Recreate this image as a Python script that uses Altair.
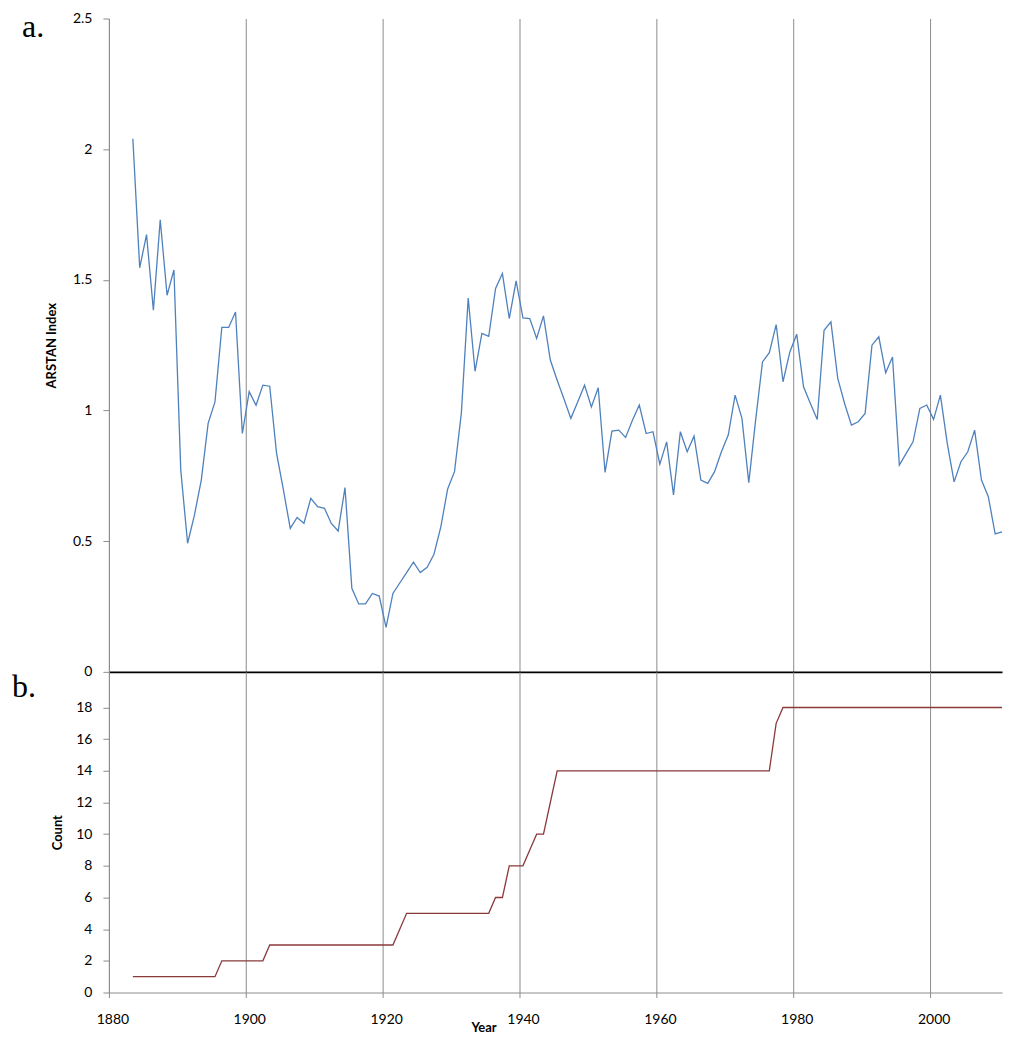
import altair as alt
import pandas as pd

years = list(range(1883, 2011))

arstan = [
    2.04, 1.546, 1.673, 1.384, 1.73, 1.441, 1.538, 0.772, 0.492, 0.60,
    0.734, 0.951, 1.033, 1.318, 1.318, 1.377, 0.912, 1.072, 1.02, 1.097,
    1.093, 0.836, 0.696, 0.549, 0.591, 0.568, 0.664, 0.632, 0.626, 0.568,
    0.539, 0.705, 0.32, 0.26, 0.26, 0.30, 0.29, 0.17, 0.30, 0.34,
    0.38, 0.42, 0.38, 0.40, 0.45, 0.555, 0.70, 0.766, 0.99, 1.43,
    1.15, 1.295, 1.284, 1.467, 1.524, 1.352, 1.496, 1.354, 1.352, 1.276,
    1.362, 1.193, 1.116, 1.044, 0.97, 1.033, 1.097, 1.014, 1.087, 0.763,
    0.921, 0.925, 0.897, 0.963, 1.021, 0.912, 0.919, 0.795, 0.88, 0.677,
    0.919, 0.842, 0.902, 0.734, 0.721, 0.766, 0.842, 0.906, 1.059, 0.97,
    0.724, 0.963, 1.186, 1.221, 1.329, 1.11, 1.224, 1.292, 1.091, 1.027,
    0.966, 1.307, 1.339, 1.123, 1.027, 0.944, 0.957, 0.989, 1.25, 1.282,
    1.144, 1.205, 0.791, 0.836, 0.88, 1.008, 1.021, 0.966, 1.059, 0.874,
    0.727, 0.804, 0.842, 0.925, 0.734, 0.67, 0.528, 0.536,
]

counts = [
    1, 1, 1, 1, 1, 1, 1, 1, 1, 1, 1, 1, 1,            # 1883-1895
    2, 2, 2, 2, 2, 2, 2,                              # 1896-1902
    3, 3, 3, 3, 3, 3, 3, 3, 3, 3, 3, 3, 3, 3, 3, 3, 3, 3, 3,  # 1903-1921
    4,                                                # 1922
    5, 5, 5, 5, 5, 5, 5, 5, 5, 5, 5, 5, 5,            # 1923-1935
    6, 6,                                             # 1936-1937
    8, 8, 8,                                          # 1938-1940
    9,                                                # 1941
    10, 10,                                           # 1942-1943
    12,                                               # 1944
    14, 14, 14, 14, 14, 14, 14, 14, 14, 14, 14, 14, 14, 14, 14, 14,
    14, 14, 14, 14, 14, 14, 14, 14, 14, 14, 14, 14, 14, 14, 14, 14,  # 1945-1976
    17,                                               # 1977
    18, 18, 18, 18, 18, 18, 18, 18, 18, 18, 18, 18, 18, 18, 18, 18, 18,
    18, 18, 18, 18, 18, 18, 18, 18, 18, 18, 18, 18, 18, 18, 18, 18,  # 1978-2010
]

x_ticks = [1880, 1900, 1920, 1940, 1960, 1980, 2000]
arstan_ticks = [0, 0.5, 1, 1.5, 2, 2.5]
count_ticks = [0, 2, 4, 6, 8, 10, 12, 14, 16, 18]
panel_labels = ["a.", "b."]

df = pd.DataFrame({"year": years, "arstan": arstan, "count": counts})

GRAY = "#8c8c8c"
W = 894
xscale = alt.Scale(domain=[1880, 2010.5], nice=False, zero=False)

top_line = (
    alt.Chart(df)
    .transform_calculate(xpos="datum.year + 0.5")
    .mark_line(color="#4F81BD", strokeWidth=1.3)
    .encode(
        x=alt.X("xpos:Q", scale=xscale,
                axis=alt.Axis(values=x_ticks, labels=False, ticks=False, title=None,
                              grid=True, gridColor=GRAY, domainColor="black",
                              domainWidth=1.6)),
        y=alt.Y("arstan:Q", scale=alt.Scale(domain=[0, 2.5], nice=False, zero=False),
                axis=alt.Axis(values=arstan_ticks, format="~g", title="ARSTAN Index",
                              grid=False, tickSize=6, labelPadding=11, titlePadding=14)),
    )
)
label_a = (
    alt.Chart(pd.DataFrame({"t": [panel_labels[0]]}))
    .mark_text(font="Liberation Serif", fontSize=32, align="left",
               baseline="alphabetic", color="black")
    .encode(x=alt.value(-87), y=alt.value(19), text="t:N")
)
top = alt.layer(top_line, label_a).properties(width=W, height=654)

bottom_line = (
    alt.Chart(df)
    .transform_calculate(xpos="datum.year + 0.5")
    .mark_line(color="#8B3A3A", strokeWidth=1.3)
    .encode(
        x=alt.X("xpos:Q", scale=xscale,
                axis=alt.Axis(values=x_ticks, format="d", title="Year", grid=True,
                              gridColor=GRAY, tickSize=5, labelPadding=15,
                              labelOffset=3.5, labelFlush=False, titleX=375, titleY=35,
                              titleAlign="center", titleBaseline="middle")),
        y=alt.Y("count:Q", scale=alt.Scale(domain=[0, 20.25], nice=False, zero=False),
                axis=alt.Axis(values=count_ticks, format="d", title="Count",
                              grid=False, tickSize=6, labelPadding=11, titlePadding=11)),
    )
)
label_b = (
    alt.Chart(pd.DataFrame({"t": [panel_labels[1]]}))
    .mark_text(font="Liberation Serif", fontSize=32, align="left",
               baseline="alphabetic", color="black")
    .encode(x=alt.value(-97), y=alt.value(25), text="t:N")
)
bottom = alt.layer(bottom_line, label_b).properties(width=W, height=321)

chart = (
    alt.vconcat(top, bottom, spacing=0, bounds="flush")
    .properties(padding={"left": 4, "top": 3, "right": 0, "bottom": 0},
                background="white")
    .configure_view(stroke=None)
    .configure_axis(
        labelFont="Lato", labelFontSize=14, labelColor="black",
        titleFont="Lato", titleFontSize=13, titleFontWeight="bold", titleColor="black",
        tickColor=GRAY, domainColor=GRAY, gridColor=GRAY, gridWidth=1,
    )
)

chart.save("out.html", embed_options={"renderer": "svg", "actions": False})
